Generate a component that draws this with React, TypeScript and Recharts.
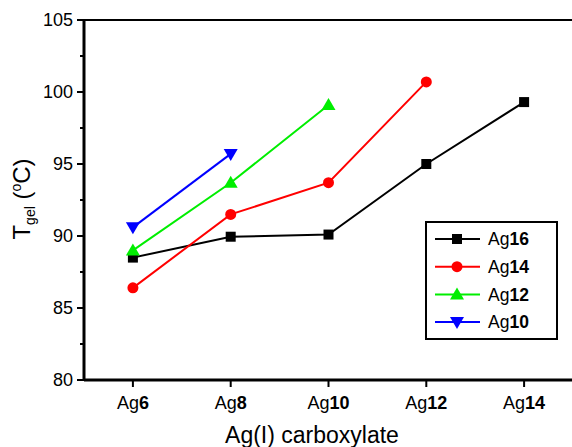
import React from 'react';
import { LineChart, Line, XAxis, YAxis, ReferenceLine, Label } from 'recharts';

// carbon number of the Ag(I) carboxylate on the x axis
const carbons = [6, 8, 10, 12, 14];
const yTicks = [80, 82.5, 85, 87.5, 90, 92.5, 95, 97.5, 100, 102.5, 105];

// gelation temperature (°C) per gelator, read left to right
const ag16 = [88.5, 89.95, 90.1, 95.0, 99.3];
const ag14 = [86.4, 91.5, 93.7, 100.7];
const ag12 = [89.0, 93.7, 99.1];
const ag10 = [90.6, 95.7];

const SERIES = [
  { key: 'ag16', name: '16', color: '#000000', shape: 'square', values: ag16 },
  { key: 'ag14', name: '14', color: '#ff0000', shape: 'circle', values: ag14 },
  { key: 'ag12', name: '12', color: '#00ee00', shape: 'up', values: ag12 },
  { key: 'ag10', name: '10', color: '#0000ff', shape: 'down', values: ag10 },
];

const data = carbons.map((c, i) => {
  const row: Record<string, number | null> = { c };
  SERIES.forEach((s) => {
    row[s.key] = s.values[i] ?? null;
  });
  return row;
});

const FONT = '"Liberation Sans", Arial, sans-serif';

const Marker = ({ cx, cy, shape, color }: { cx: number; cy: number; shape: string; color: string }) => {
  if (cx == null || cy == null) return null;
  if (shape === 'square') return <rect x={cx - 5} y={cy - 5} width={10} height={10} fill={color} />;
  if (shape === 'circle') return <circle cx={cx} cy={cy} r={5.5} fill={color} />;
  if (shape === 'up')
    return <polygon points={`${cx},${cy - 7} ${cx - 7},${cy + 5} ${cx + 7},${cy + 5}`} fill={color} />;
  return <polygon points={`${cx - 7},${cy - 5} ${cx + 7},${cy - 5} ${cx},${cy + 7}`} fill={color} />;
};

const XTick = (props: any) => {
  const { x, y, payload } = props;
  return (
    <text x={x} y={y + 20} textAnchor="middle" fontSize={18} fontFamily={FONT} fill="#000">
      Ag<tspan fontWeight="bold">{payload.value}</tspan>
    </text>
  );
};

const YTick = (props: any) => {
  const { x, y, payload } = props;
  const major = payload.value % 5 === 0;
  const axisX = x + 11;
  return (
    <g>
      <line x1={major ? axisX - 7 : axisX - 4} x2={axisX} y1={y} y2={y} stroke="#000" strokeWidth={2} />
      {major && (
        <text x={x} y={y} dy="0.36em" textAnchor="end" fontSize={18} fontFamily={FONT} fill="#000">
          {payload.value}
        </text>
      )}
    </g>
  );
};

const LegendBox = () => (
  <svg
    width={134}
    height={120}
    style={{ position: 'absolute', left: 425, top: 221 }}
  >
    <rect x={1} y={1} width={131} height={117} fill="#fff" stroke="#000" strokeWidth={2} />
    {SERIES.map((s, i) => {
      const cy = 18 + i * 27.7;
      return (
        <g key={s.key}>
          <line x1={10} x2={55} y1={cy} y2={cy} stroke={s.color} strokeWidth={2} />
          <Marker cx={32} cy={cy} shape={s.shape} color={s.color} />
          <text x={63} y={cy} dy="0.36em" fontSize={17.5} fontFamily={FONT} fill="#000">
            Ag<tspan fontWeight="bold">{s.name}</tspan>
          </text>
        </g>
      );
    })}
  </svg>
);

export default function App() {
  return (
    <div
      style={{
        position: 'absolute',
        left: 0,
        top: 0,
        width: 572,
        height: 447,
        overflow: 'hidden',
        background: '#fff',
      }}
    >
      <LineChart width={600} height={447} data={data} margin={{ top: 20, right: 27, bottom: 0, left: 0 }}>
        <XAxis
          type="number"
          dataKey="c"
          domain={[5, 15]}
          ticks={carbons}
          height={67}
          axisLine={{ stroke: '#000', strokeWidth: 3 }}
          tickLine={{ stroke: '#000', strokeWidth: 2 }}
          tickSize={7}
          tick={<XTick />}
        >
          <Label
            content={() => (
              <text x={312} y={443} textAnchor="middle" fontSize={23} fontFamily={FONT} fill="#000">
                Ag(I) carboxylate
              </text>
            )}
          />
        </XAxis>
        <YAxis
          type="number"
          domain={[80, 105]}
          ticks={yTicks}
          width={84}
          axisLine={{ stroke: '#000', strokeWidth: 3 }}
          tickLine={false}
          tickSize={7}
          tickMargin={4}
          tick={<YTick />}
          interval={0}
        >
          <Label
            content={() => (
              <text
                x={30}
                y={199}
                transform="rotate(-90, 30, 199)"
                textAnchor="middle"
                fontSize={24}
                fontFamily={FONT}
                fill="#000"
              >
                T<tspan fontSize={14} dy={5}>gel</tspan>
                <tspan dy={-5}> (</tspan>
                <tspan fontSize={14} dy={-9}>o</tspan>
                <tspan dy={9}>C)</tspan>
              </text>
            )}
          />
        </YAxis>
        <ReferenceLine y={105} stroke="#000" strokeWidth={2} />
        {SERIES.map((s) => (
          <Line
            key={s.key}
            dataKey={s.key}
            stroke={s.color}
            strokeWidth={2}
            isAnimationActive={false}
            dot={(p: any) => <Marker key={`${s.key}-${p.index}`} cx={p.cx} cy={p.cy} shape={s.shape} color={s.color} />}
            activeDot={false}
          />
        ))}
      </LineChart>
      <LegendBox />
    </div>
  );
}
